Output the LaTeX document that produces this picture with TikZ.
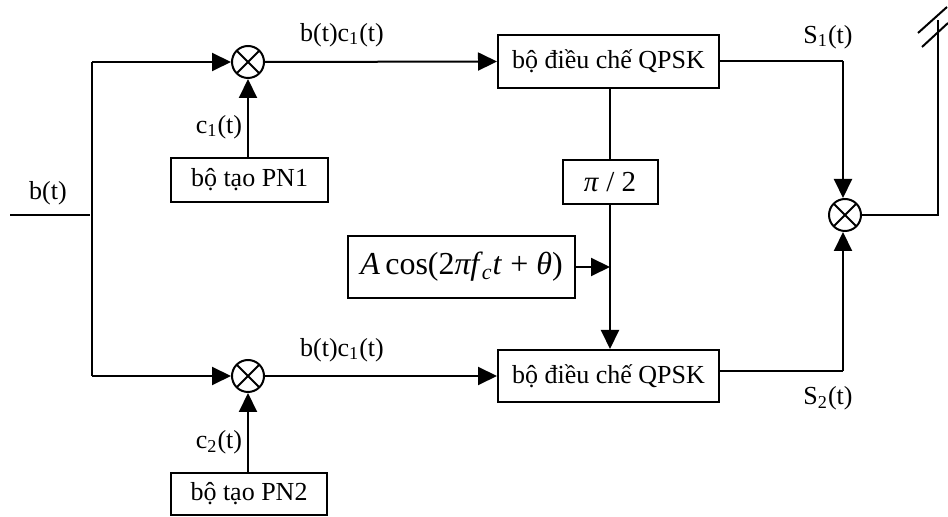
\documentclass[tikz,border=0pt]{standalone}
\usepackage{fontspec}
\setmainfont{Liberation Serif}
\usetikzlibrary{arrows.meta}
\tikzset{
  block/.style={draw, line width=1pt, inner sep=0pt, font=\fontsize{13}{15}\selectfont},
  mixer/.style={draw, circle, line width=1pt, minimum size=16pt, inner sep=0pt,
    path picture={\draw[line width=1pt] (path picture bounding box.north west) -- (path picture bounding box.south east)
      (path picture bounding box.north east) -- (path picture bounding box.south west);}},
  wire/.style={line width=1pt},
  feed/.style={wire, -{Triangle[length=9.5pt,width=9pt]}},
  lbl/.style={font=\fontsize{13}{15}\selectfont, inner sep=0pt}
}
\begin{document}
\begin{tikzpicture}[x=0.5pt, y=-0.5pt]
\useasboundingbox (0,0) rectangle (948,517);

% multipliers
\node[mixer] (m1) at (248,62) {};
\node[mixer] (m2) at (248,376) {};
\node[mixer] (m3) at (845,215) {};

% blocks
\node[block, minimum width=78.5pt, minimum height=22pt] (pn1) at (249.5,180) {bộ tạo PN1};
\node[block, minimum width=78pt, minimum height=21pt] (pn2) at (249,494) {bộ tạo PN2};
\node[block, minimum width=110.5pt, minimum height=26.5pt] (mod1) at (608.5,61.5) {bộ điều chế QPSK};
\node[block, minimum width=110.5pt, minimum height=26pt] (mod2) at (608.5,376) {bộ điều chế QPSK};
\node[block, minimum width=47.5pt, minimum height=22pt, font=\fontsize{14.5}{16}\selectfont] (ph) at (610,182) {\textit{π} / 2};
\node[block, minimum width=113.5pt, minimum height=31pt, font=\fontsize{16}{18}\selectfont] (osc) at (461.5,267)
  {\textit{A}\,cos(2\textit{π}\kern-0.5pt\textit{f}\kern-0.5pt\raisebox{-0.35ex}{\fontsize{11}{12}\selectfont\textit{c}}\kern0.5pt\textit{t} + \textit{θ})};

% input and splitting bus
\coordinate (in) at (10,215);
\coordinate (inend) at (90,215);
\coordinate (bustop) at (92,62);
\coordinate (busbot) at (92,376);
\draw[wire] (in) -- (inend);
\draw[wire] (bustop) -- (busbot);
\draw[feed] (bustop) -- (m1.west);
\draw[feed] (busbot) -- (m2.west);

% spreading codes
\draw[feed] (pn1.north -| m1) -- (m1.south);
\draw[feed] (pn2.north -| m2) -- (m2.south);

% spread data to modulators
\draw[feed] (m1.east) -- (mod1.west);
\draw[feed] (m2.east) -- (mod2.west);

% carrier and phase shift
\draw[wire] (mod1.south -| ph) -- (ph.north);
\draw[feed] (ph.south) -- (mod2.north -| ph);
\coordinate (tap) at (ph.south |- osc.east);
\draw[feed] (osc.east) -- (tap);

% combining
\coordinate (c1) at (843,61.5);
\coordinate (c2) at (843,371);
\draw[wire] (mod1.east) -- (c1);
\draw[feed] (c1) -- (m3.north -| c1);
\draw[wire] (mod2.east |- c2) -- (c2);
\draw[feed] (c2) -- (m3.south -| c2);

% antenna
\coordinate (ant) at (938,215);
\coordinate (anttop) at (938,20);
\draw[wire] (m3.east) -- (ant) -- (anttop);
\coordinate (s1a) at (918,33);
\coordinate (s1b) at (947,7);
\coordinate (s2a) at (922,47);
\coordinate (s2b) at (948,23);
\draw[wire] (s1a) -- (s1b);
\draw[wire] (s2a) -- (s2b);

% signal labels
\node[lbl] (lb) at (48,193) {b(t)};
\node[lbl] (lbc1) at (342,35) {b(t)c\textsubscript{1}(t)};
\node[lbl] (lbc2) at (342,350) {b(t)c\textsubscript{1}(t)};
\node[lbl] (lc1) at (219,127) {c\textsubscript{1}(t)};
\node[lbl] (lc2) at (219,442) {c\textsubscript{2}(t)};
\node[lbl] (ls1) at (828,37) {S\textsubscript{1}(t)};
\node[lbl] (ls2) at (828,398) {S\textsubscript{2}(t)};
\end{tikzpicture}
\end{document}
